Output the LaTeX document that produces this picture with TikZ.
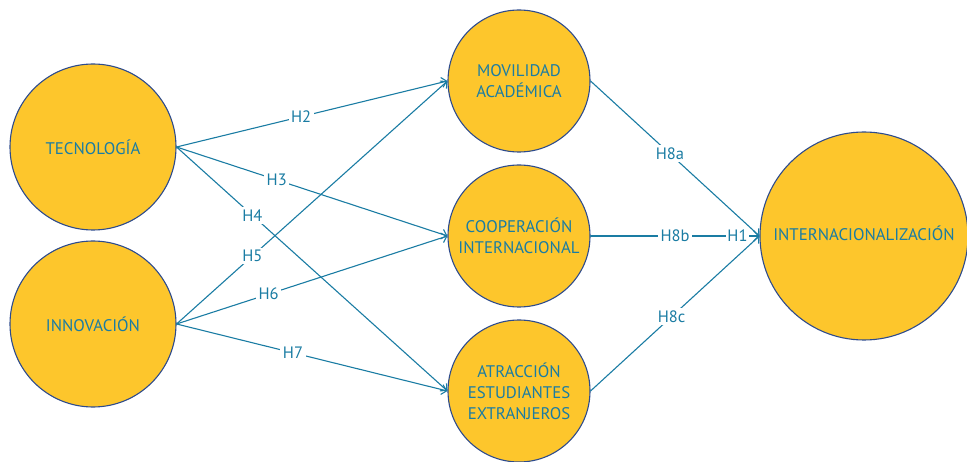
\documentclass[tikz,border=0pt]{standalone}
\usepackage{fontspec}
\setmainfont{PT Sans}
\usetikzlibrary{arrows.meta}
\definecolor{varfill}{HTML}{FDC62C}
\definecolor{varline}{HTML}{2D4B8D}
\definecolor{hypblue}{HTML}{1A7CA3}
\tikzset{
  var/.style = {circle, draw = varline, line width = 1.1pt, fill = varfill,
    text = hypblue, align = center, inner sep = 0pt,
    font = \fontsize{16.8}{21}\selectfont},
  link/.style = {draw = hypblue, line width = 1.1pt,
    -{Straight Barb[length = 5pt, width = 10pt]}},
  hyp/.style = {fill = white, text = hypblue, inner sep = 2.5pt,
    font = \fontsize{16.5}{18}\selectfont}
}
\begin{document}
\begin{tikzpicture}[x = 1pt, y = 1pt, line join = round, line cap = round]
\useasboundingbox (0, 0) rectangle (967, 461);
\node[var, minimum size = 166pt] (tec) at (93, 314) {TECNOLOGÍA};
\node[var, minimum size = 166pt] (inn) at (93, 137) {INNOVACIÓN};
\node[var, minimum size = 142pt] (mov) at (519, 380) {MOVILIDAD\\ACADÉMICA};
\node[var, minimum size = 142pt] (coop) at (519, 225) {COOPERACIÓN\\INTERNACIONAL};
\node[var, minimum size = 142pt] (atr) at (519, 70) {ATRACCIÓN\\ESTUDIANTES\\EXTRANJEROS};
\node[var, minimum size = 208pt] (intl) at (864, 225) {\raisebox{5pt}{INTERNACIONALIZACIÓN}};

%\draw[help lines] (0, 0) grid[step = 50] (967, 461);
\foreach \a/\b/\h/\p in {tec/mov/H2/.46, tec/coop/H3/.37, tec/atr/H4/.28,
  inn/mov/H5/.28, inn/coop/H6/.34, inn/atr/H7/.43,
  mov/intl/H8a/.47, atr/intl/H8c/.48}{
  \draw[link] (\a.east) -- node[hyp, pos = \p] {\h} (\b.west);
}
\draw[link] (coop.east) -- node[hyp, pos = .5] {H8b}
  node[hyp, pos = .87, inner sep = 1pt] {H1} (intl.west);
\end{tikzpicture}
\end{document}
